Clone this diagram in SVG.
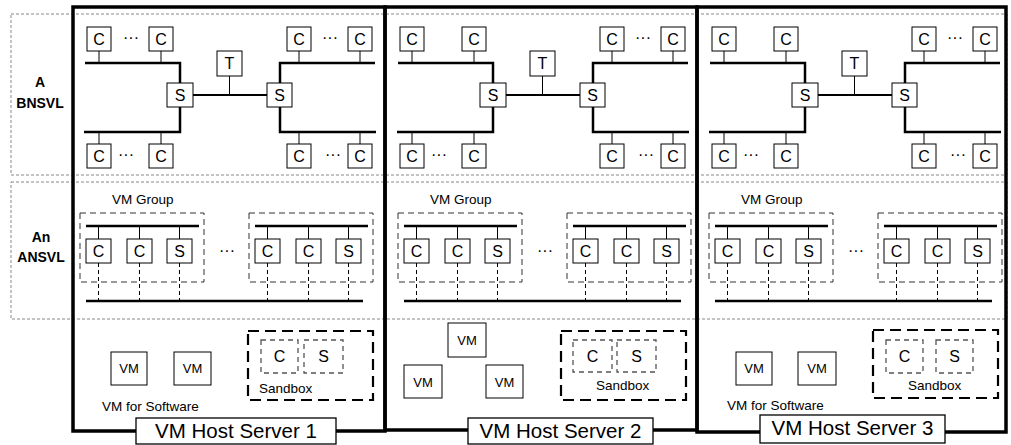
<svg xmlns="http://www.w3.org/2000/svg" width="1011" height="445" viewBox="0 0 1011 445">
<style>
.row{fill:none;stroke:#888;stroke-width:1;stroke-dasharray:3 2}
.srv{fill:none;stroke:#000;stroke-width:3.5}
.box{fill:#fff;stroke:#000;stroke-width:1}
.bus{fill:none;stroke:#000;stroke-width:2.5}
.link{fill:none;stroke:#000;stroke-width:2}
.thin{fill:none;stroke:#000;stroke-width:1}
.dstub{fill:none;stroke:#000;stroke-width:1;stroke-dasharray:4 3}
.grp{fill:none;stroke:#333;stroke-width:1;stroke-dasharray:6 4}
.sbx{fill:none;stroke:#000;stroke-width:2.2;stroke-dasharray:11 6}
.inner{fill:none;stroke:#555;stroke-width:1.3;stroke-dasharray:5 4}
.lbl{fill:#fff;stroke:#000;stroke-width:1.3}
text{font-family:"Liberation Sans",Arial,sans-serif;fill:#000}
.n{font-size:16px;text-anchor:middle}
.vm{font-size:13px;text-anchor:middle}
.sm{font-size:13.5px}
.dots{font-size:16px;text-anchor:middle}
.side{font-size:14px;font-weight:bold;text-anchor:middle}
.host{font-size:20.5px;text-anchor:middle}
</style>
<defs>
<g id="topConn">
<path class="bus" d="M85,63H180V83"/>
<path class="bus" d="M84,132H180V106"/>
<path class="bus" d="M375,63H280V83"/>
<path class="bus" d="M376,132H280V106"/>
<path class="link" d="M193,95H267"/>
<path class="thin" d="M99,51V63M161,51V63M299,51V63M360,51V63M99,132V144M161,132V144M299,132V144M360,132V144M229.5,76V95"/>
</g>
<g id="midConn">
<path class="bus" d="M86,226H199M255,226H368"/>
<path class="thin" d="M98.5,226V239M139.5,226V239M179.5,226V239M267.5,226V239M308.5,226V239M348.5,226V239"/>
<path class="dstub" d="M98.5,263V301M139.5,263V301M179.5,263V301M267.5,263V301M308.5,263V301M348.5,263V301"/>
<path class="bus" d="M86,301H363"/>
</g>
</defs>

<g id="layers">
<rect class="row" x="11" y="14" width="996" height="161"/>
<rect class="row" x="11" y="182" width="996" height="137"/>
<text class="side" x="40" y="87">A</text>
<text class="side" x="40" y="108">BNSVL</text>
<text class="side" x="41" y="242">An</text>
<text class="side" x="41" y="262">ANSVL</text>
</g>

<g id="connectors">
<use href="#topConn"/>
<use href="#topConn" transform="translate(313,0)"/>
<use href="#topConn" transform="translate(625,0)"/>
<use href="#midConn"/>
<use href="#midConn" transform="translate(318,0)"/>
<use href="#midConn" transform="translate(629,0)"/>
</g>

<g id="server1">
<rect class="srv" x="73" y="7" width="312" height="424"/>
<g id="s1-top">
<g id="s1-c1"><rect class="box" x="87" y="27" width="24" height="24"/><text class="n" x="99" y="44.5">C</text></g>
<text class="dots" x="131" y="43">···</text>
<g id="s1-c2"><rect class="box" x="149" y="27" width="24" height="24"/><text class="n" x="161" y="44.5">C</text></g>
<g id="s1-s1"><rect class="box" x="167" y="83" width="26" height="24"/><text class="n" x="180" y="100.5">S</text></g>
<g id="s1-t"><rect class="box" x="217" y="51" width="25" height="25"/><text class="n" x="229.5" y="69">T</text></g>
<g id="s1-s2"><rect class="box" x="267" y="83" width="25" height="24"/><text class="n" x="279.5" y="100.5">S</text></g>
<g id="s1-c3"><rect class="box" x="287" y="27" width="24" height="24"/><text class="n" x="299" y="44.5">C</text></g>
<text class="dots" x="330" y="43">···</text>
<g id="s1-c4"><rect class="box" x="348" y="27" width="24" height="24"/><text class="n" x="360" y="44.5">C</text></g>
<g id="s1-c5"><rect class="box" x="87" y="144" width="24" height="24"/><text class="n" x="99" y="161.5">C</text></g>
<text class="dots" x="126" y="160">···</text>
<g id="s1-c6"><rect class="box" x="149" y="144" width="24" height="24"/><text class="n" x="161" y="161.5">C</text></g>
<g id="s1-c7"><rect class="box" x="287" y="144" width="24" height="24"/><text class="n" x="299" y="161.5">C</text></g>
<text class="dots" x="333" y="160">···</text>
<g id="s1-c8"><rect class="box" x="348" y="144" width="24" height="24"/><text class="n" x="360" y="161.5">C</text></g>
</g>
<g id="s1-mid">
<text class="sm" x="112" y="204">VM Group</text>
<rect class="grp" x="80" y="213" width="124" height="69"/>
<rect class="grp" x="249" y="213" width="124" height="69"/>
<g id="s1-g1c1"><rect class="box" x="86" y="239" width="25" height="24"/><text class="n" x="98.5" y="256.5">C</text></g>
<g id="s1-g1c2"><rect class="box" x="127" y="239" width="25" height="24"/><text class="n" x="139.5" y="256.5">C</text></g>
<g id="s1-g1s"><rect class="box" x="167" y="239" width="25" height="24"/><text class="n" x="179.5" y="256.5">S</text></g>
<text class="dots" x="227" y="256">···</text>
<g id="s1-g2c1"><rect class="box" x="255" y="239" width="25" height="24"/><text class="n" x="267.5" y="256.5">C</text></g>
<g id="s1-g2c2"><rect class="box" x="296" y="239" width="25" height="24"/><text class="n" x="308.5" y="256.5">C</text></g>
<g id="s1-g2s"><rect class="box" x="336" y="239" width="25" height="24"/><text class="n" x="348.5" y="256.5">S</text></g>
</g>
<g id="s1-bot">
<g id="s1-vm1"><rect class="box" x="111" y="352" width="36" height="33"/><text class="vm" x="129" y="373">VM</text></g>
<g id="s1-vm2"><rect class="box" x="174" y="352" width="37" height="33"/><text class="vm" x="192.5" y="373">VM</text></g>
<text class="sm" x="102" y="411">VM for Software</text>
<g id="s1-sandbox">
<rect class="sbx" x="248" y="331" width="125" height="69"/>
<rect class="inner" x="261" y="340" width="37" height="33"/><text class="n" x="279.5" y="362">C</text>
<rect class="inner" x="304" y="340" width="39" height="33"/><text class="n" x="323.5" y="362">S</text>
<text class="sm" x="259" y="393">Sandbox</text>
</g>
</g>
<g id="s1-label"><rect class="lbl" x="136" y="418" width="200" height="26"/><text class="host" x="236" y="438">VM Host Server 1</text></g>
</g>

<g id="server2">
<rect class="srv" x="385" y="7" width="312" height="423"/>
<g id="s2-top" transform="translate(313,0)">
<g id="s2-c1"><rect class="box" x="87" y="27" width="24" height="24"/><text class="n" x="99" y="44.5">C</text></g>
<g id="s2-c2"><rect class="box" x="149" y="27" width="24" height="24"/><text class="n" x="161" y="44.5">C</text></g>
<g id="s2-s1"><rect class="box" x="167" y="83" width="26" height="24"/><text class="n" x="180" y="100.5">S</text></g>
<g id="s2-t"><rect class="box" x="217" y="51" width="25" height="25"/><text class="n" x="229.5" y="69">T</text></g>
<g id="s2-s2"><rect class="box" x="267" y="83" width="25" height="24"/><text class="n" x="279.5" y="100.5">S</text></g>
<g id="s2-c3"><rect class="box" x="287" y="27" width="24" height="24"/><text class="n" x="299" y="44.5">C</text></g>
<text class="dots" x="330" y="43">···</text>
<g id="s2-c4"><rect class="box" x="348" y="27" width="24" height="24"/><text class="n" x="360" y="44.5">C</text></g>
<g id="s2-c5"><rect class="box" x="87" y="144" width="24" height="24"/><text class="n" x="99" y="161.5">C</text></g>
<text class="dots" x="126" y="160">···</text>
<g id="s2-c6"><rect class="box" x="149" y="144" width="24" height="24"/><text class="n" x="161" y="161.5">C</text></g>
<g id="s2-c7"><rect class="box" x="287" y="144" width="24" height="24"/><text class="n" x="299" y="161.5">C</text></g>
<text class="dots" x="333" y="160">···</text>
<g id="s2-c8"><rect class="box" x="348" y="144" width="24" height="24"/><text class="n" x="360" y="161.5">C</text></g>
</g>
<g id="s2-mid" transform="translate(318,0)">
<text class="sm" x="112" y="204">VM Group</text>
<rect class="grp" x="80" y="213" width="124" height="69"/>
<rect class="grp" x="249" y="213" width="124" height="69"/>
<g id="s2-g1c1"><rect class="box" x="86" y="239" width="25" height="24"/><text class="n" x="98.5" y="256.5">C</text></g>
<g id="s2-g1c2"><rect class="box" x="127" y="239" width="25" height="24"/><text class="n" x="139.5" y="256.5">C</text></g>
<g id="s2-g1s"><rect class="box" x="167" y="239" width="25" height="24"/><text class="n" x="179.5" y="256.5">S</text></g>
<text class="dots" x="227" y="256">···</text>
<g id="s2-g2c1"><rect class="box" x="255" y="239" width="25" height="24"/><text class="n" x="267.5" y="256.5">C</text></g>
<g id="s2-g2c2"><rect class="box" x="296" y="239" width="25" height="24"/><text class="n" x="308.5" y="256.5">C</text></g>
<g id="s2-g2s"><rect class="box" x="336" y="239" width="25" height="24"/><text class="n" x="348.5" y="256.5">S</text></g>
</g>
<g id="s2-bot">
<g id="s2-vm1"><rect class="box" x="448" y="323" width="38" height="34"/><text class="vm" x="467" y="345">VM</text></g>
<g id="s2-vm2"><rect class="box" x="404" y="365" width="38" height="33"/><text class="vm" x="423" y="386.5">VM</text></g>
<g id="s2-vm3"><rect class="box" x="486" y="365" width="37" height="33"/><text class="vm" x="504.5" y="386.5">VM</text></g>
<g id="s2-sandbox">
<rect class="sbx" x="561" y="331" width="125" height="69"/>
<rect class="inner" x="573" y="340" width="39" height="32"/><text class="n" x="592.5" y="361.5">C</text>
<rect class="inner" x="617" y="340" width="39" height="32"/><text class="n" x="636.5" y="361.5">S</text>
<text class="sm" x="596" y="390">Sandbox</text>
</g>
</g>
<g id="s2-label"><rect class="lbl" x="468" y="418" width="185" height="26"/><text class="host" x="560.5" y="438">VM Host Server 2</text></g>
</g>

<g id="server3">
<rect class="srv" x="697" y="7" width="309" height="425"/>
<g id="s3-top" transform="translate(625,0)">
<g id="s3-c1"><rect class="box" x="87" y="27" width="24" height="24"/><text class="n" x="99" y="44.5">C</text></g>
<g id="s3-c2"><rect class="box" x="149" y="27" width="24" height="24"/><text class="n" x="161" y="44.5">C</text></g>
<g id="s3-s1"><rect class="box" x="167" y="83" width="26" height="24"/><text class="n" x="180" y="100.5">S</text></g>
<g id="s3-t"><rect class="box" x="217" y="51" width="25" height="25"/><text class="n" x="229.5" y="69">T</text></g>
<g id="s3-s2"><rect class="box" x="267" y="83" width="25" height="24"/><text class="n" x="279.5" y="100.5">S</text></g>
<g id="s3-c3"><rect class="box" x="287" y="27" width="24" height="24"/><text class="n" x="299" y="44.5">C</text></g>
<text class="dots" x="330" y="43">···</text>
<g id="s3-c4"><rect class="box" x="348" y="27" width="24" height="24"/><text class="n" x="360" y="44.5">C</text></g>
<g id="s3-c5"><rect class="box" x="87" y="144" width="24" height="24"/><text class="n" x="99" y="161.5">C</text></g>
<text class="dots" x="126" y="160">···</text>
<g id="s3-c6"><rect class="box" x="149" y="144" width="24" height="24"/><text class="n" x="161" y="161.5">C</text></g>
<g id="s3-c7"><rect class="box" x="287" y="144" width="24" height="24"/><text class="n" x="299" y="161.5">C</text></g>
<text class="dots" x="333" y="160">···</text>
<g id="s3-c8"><rect class="box" x="348" y="144" width="24" height="24"/><text class="n" x="360" y="161.5">C</text></g>
</g>
<g id="s3-mid" transform="translate(629,0)">
<text class="sm" x="112" y="204">VM Group</text>
<rect class="grp" x="80" y="213" width="124" height="69"/>
<rect class="grp" x="249" y="213" width="124" height="69"/>
<g id="s3-g1c1"><rect class="box" x="86" y="239" width="25" height="24"/><text class="n" x="98.5" y="256.5">C</text></g>
<g id="s3-g1c2"><rect class="box" x="127" y="239" width="25" height="24"/><text class="n" x="139.5" y="256.5">C</text></g>
<g id="s3-g1s"><rect class="box" x="167" y="239" width="25" height="24"/><text class="n" x="179.5" y="256.5">S</text></g>
<text class="dots" x="227" y="256">···</text>
<g id="s3-g2c1"><rect class="box" x="255" y="239" width="25" height="24"/><text class="n" x="267.5" y="256.5">C</text></g>
<g id="s3-g2c2"><rect class="box" x="296" y="239" width="25" height="24"/><text class="n" x="308.5" y="256.5">C</text></g>
<g id="s3-g2s"><rect class="box" x="336" y="239" width="25" height="24"/><text class="n" x="348.5" y="256.5">S</text></g>
</g>
<g id="s3-bot">
<g id="s3-vm1"><rect class="box" x="736" y="352" width="36" height="33"/><text class="vm" x="754" y="373">VM</text></g>
<g id="s3-vm2"><rect class="box" x="798" y="352" width="38" height="33"/><text class="vm" x="817" y="373">VM</text></g>
<text class="sm" x="727" y="410">VM for Software</text>
<g id="s3-sandbox">
<rect class="sbx" x="873" y="330" width="125" height="68"/>
<rect class="inner" x="886" y="340" width="37" height="33"/><text class="n" x="904.5" y="362">C</text>
<rect class="inner" x="936" y="340" width="37" height="33"/><text class="n" x="954.5" y="362">S</text>
<text class="sm" x="908" y="390">Sandbox</text>
</g>
</g>
<g id="s3-label"><rect class="lbl" x="760" y="415" width="185" height="28"/><text class="host" x="852.5" y="435">VM Host Server 3</text></g>
</g>
</svg>
